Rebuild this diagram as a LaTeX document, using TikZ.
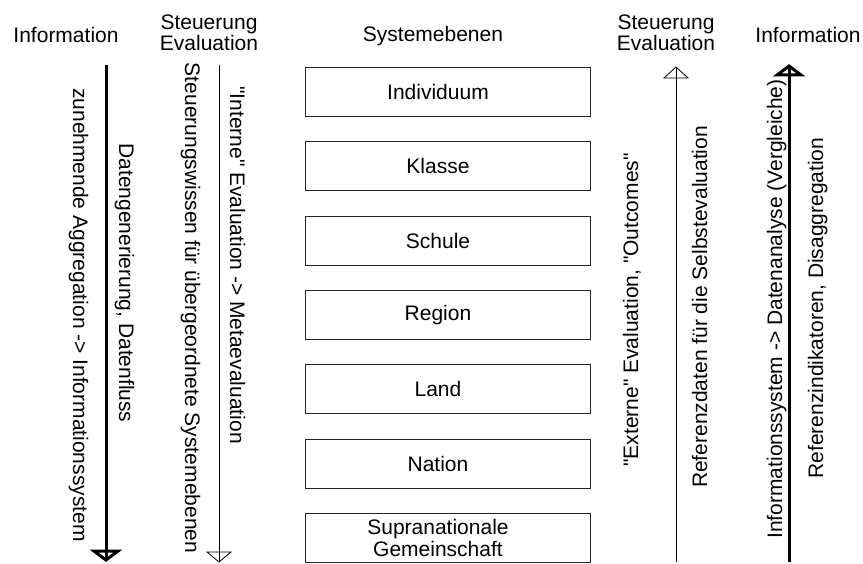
\documentclass[tikz,border=0pt]{standalone}
\usepackage{fontspec}
\newfontfamily\arialx{Liberation Sans}
\usetikzlibrary{calc}
\begin{document}
\begin{tikzpicture}[x=1pt,y=-1pt,
  lbl/.style={font=\arialx\fontsize{21}{21.5}\selectfont, inner sep=0pt, align=center},
  rtext/.style={lbl, anchor=base},
  level/.style={draw=black!85, line width=1pt, minimum width=285pt, minimum height=49pt, inner sep=0pt, anchor=north west},
  boxtext/.style={lbl, xshift=-10pt},
  thickline/.style={line width=3pt},
  thinline/.style={line width=0.8pt},
]
\useasboundingbox (0,0) rectangle (863,564);

% headers
\node[lbl, anchor=base] (h1) at (66,43) {Information};
\node[lbl] (h2) at (209,33) {Steuerung\\Evaluation};
\node[lbl, anchor=base] (h3) at (433,42) {Systemebenen};
\node[lbl] (h4) at (666,33) {Steuerung\\Evaluation};
\node[lbl, anchor=base] (h5) at (808,43) {Information};

% level boxes
\node[level, label={[boxtext]center:Individuum}] (b1) at (305,67) {};
\node[level, label={[boxtext]center:Klasse}] (b2) at (305,141.3) {};
\node[level, label={[boxtext]center:Schule}] (b3) at (305,215.7) {};
\node[level, label={[boxtext]center:Region}] (b4) at (305,290) {};
\node[level, label={[boxtext]center:Land}] (b5) at (305,364.3) {};
\node[level, label={[boxtext]center:Nation}] (b6) at (305,438.7) {};
\node[level, label={[boxtext]center:Supranationale\\Gemeinschaft}] (b7) at (305,513) {};

% arrows
\coordinate (a1s) at (106,65);  \coordinate (a1e) at (106,560);
\coordinate (a2s) at (219,65);  \coordinate (a2e) at (219,562);
\coordinate (a3s) at (676,562); \coordinate (a3e) at (676,67);
\coordinate (a4s) at (789,562); \coordinate (a4e) at (789,66);

\draw[thickline] (a1s) -- ($(a1e)+(0,-2)$);
\draw[thickline, line join=miter] ($(a1e)+(-12,-9)$) -- (a1e) -- ($(a1e)+(12,-9)$) -- cycle;
\draw[thinline] (a2s) -- (a2e);
\draw[thinline] ($(a2e)+(-12,-10)$) -- (a2e) -- ($(a2e)+(12,-10)$) -- cycle;
\draw[thinline] (a3s) -- (a3e);
\draw[thinline] ($(a3e)+(-12,11)$) -- (a3e) -- ($(a3e)+(12,11)$) -- cycle;
\draw[thickline] (a4s) -- ($(a4e)+(0,2)$);
\draw[thickline, line join=miter] ($(a4e)+(-12,9)$) -- (a4e) -- ($(a4e)+(12,9)$) -- cycle;

% rotated texts
\node[rtext, rotate=-90] (z1) at (73,315) {zunehmende Aggregation -> Informationssystem};
\node[rtext, rotate=-90] (z2) at (119,283) {Datengenerierung, Datenfluss};
\node[rtext, rotate=-90] (z3) at (185,308) {Steuerungswissen für übergeordnete Systemebenen};
\node[rtext, rotate=-90] (z4) at (230,265) {"Interne" Evaluation -> Metaevaluation};
\node[rtext, rotate=90] (z5) at (638,310) {"Externe" Evaluation, "Outcomes"};
\node[rtext, rotate=90] (z6) at (707,307) {Referenzdaten für die Selbstevaluation};
\node[rtext, rotate=90] (z7) at (782,309) {Informationssystem -> Datenanalyse (Vergleiche)};
\node[rtext, rotate=90] (z8) at (823,308) {Referenzindikatoren, Disaggregation};
\end{tikzpicture}
\end{document}
